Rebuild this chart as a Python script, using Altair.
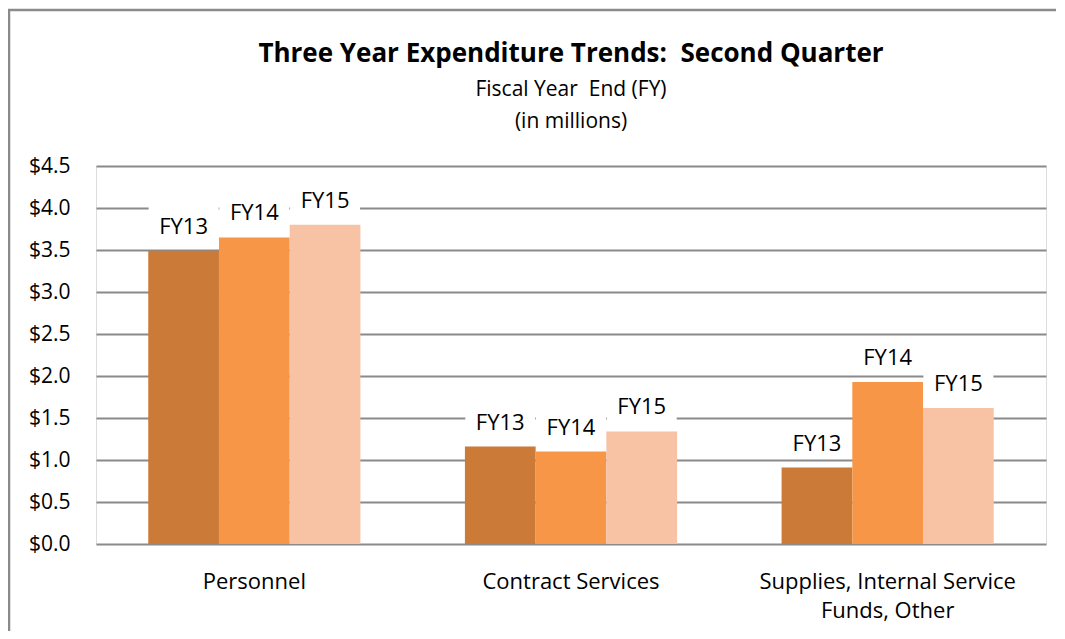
import altair as alt
import pandas as pd

# ---- data ----
categories = ["Personnel", "Contract Services", "Supplies, Internal Service Funds, Other"]
years = ["FY13", "FY14", "FY15"]
personnel = [3.49, 3.65, 3.80]
contract_services = [1.16, 1.10, 1.34]
supplies_other = [0.91, 1.93, 1.62]
y_ticks = [0.0, 0.5, 1.0, 1.5, 2.0, 2.5, 3.0, 3.5, 4.0, 4.5]
colors = ["#CC7A38", "#F79646", "#F8C2A4"]
title_text = "Three Year Expenditure Trends:\u00a0 Second Quarter"
subtitle_lines = ["Fiscal Year\u00a0 End (FY)", "(in millions)"]

rows = []
for cat, vals in zip(categories, [personnel, contract_services, supplies_other]):
    for yr, v in zip(years, vals):
        rows.append({"category": cat, "year": yr, "value": v})
df = pd.DataFrame(rows)

FONT = "Open Sans"
W, H = 950, 378
PAD = {"left": 88, "top": 158, "right": 10, "bottom": 87}

x_enc = alt.X(
    "category:N",
    sort=categories,
    scale=alt.Scale(paddingInner=0.33, paddingOuter=0.165),
    axis=alt.Axis(
        title=None, domain=False, ticks=False, labelAngle=0,
        labelPadding=27, labelFontSize=22, labelLineHeight=29, labelLimit=500,
        labelFont=FONT, labelColor="#000000",
        labelExpr="datum.label == 'Supplies, Internal Service Funds, Other' ? ['Supplies, Internal Service', 'Funds, Other'] : datum.label",
    ),
)
xoff = alt.XOffset("year:N", sort=years, scale=alt.Scale(paddingInner=0, paddingOuter=0))
y_enc = alt.Y(
    "value:Q",
    scale=alt.Scale(domain=[0, 4.5], nice=False, zero=True),
    axis=alt.Axis(
        title=None, values=y_ticks, format="$.1f", domain=False, ticks=False,
        labelPadding=26, labelFontSize=21, labelFont=FONT, labelColor="#000000",
        gridColor="#8a8a8a", gridWidth=2, gridOpacity=1,
    ),
)

base = alt.Chart(df).encode(x=x_enc, xOffset=xoff, y=y_enc)

# white label backgrounds (mask gridlines behind the labels)
box_path = "M-1,-1.3L1,-1.3L1,-0.3L-1,-0.3Z"
boxes = base.mark_point(shape=box_path, size=4900, filled=True, fill="white",
                        opacity=1, strokeWidth=0)

bars = base.mark_bar().encode(
    color=alt.Color("year:N", sort=years, scale=alt.Scale(domain=years, range=colors), legend=None)
)

labels = base.mark_text(dy=-17, baseline="alphabetic", fontSize=22, font=FONT,
                        color="#000000").encode(text="year:N")

frame = alt.Chart(alt.Data(values=[{"f": 1}])).mark_rect(
    fill=None, stroke="#8a8a8a", strokeWidth=2.5, filled=False
).encode(
    x=alt.value(-87), x2=alt.value(1000), y=alt.value(-156), y2=alt.value(700)
)

title_mark = alt.Chart(alt.Data(values=[{"t": title_text}])).mark_text(
    font=FONT, fontSize=26, fontWeight="bold", color="#000000",
    align="center", baseline="alphabetic"
).encode(text="t:N", x=alt.value(W / 2), y=alt.value(-104))

sub1 = alt.Chart(alt.Data(values=[{"t": subtitle_lines[0]}])).mark_text(
    font=FONT, fontSize=21, color="#000000", align="center", baseline="alphabetic"
).encode(text="t:N", x=alt.value(W / 2), y=alt.value(-70))

sub2 = alt.Chart(alt.Data(values=[{"t": subtitle_lines[1]}])).mark_text(
    font=FONT, fontSize=21, color="#000000", align="center", baseline="alphabetic"
).encode(text="t:N", x=alt.value(W / 2), y=alt.value(-38))

chart = alt.layer(frame, boxes, bars, labels, title_mark, sub1, sub2).properties(
    width=W, height=H,
    autosize=alt.AutoSizeParams(type="none"),
    padding=PAD,
).configure_view(stroke=None).configure(background="white")

chart.save("out.html", embed_options={"renderer": "svg", "actions": False})
